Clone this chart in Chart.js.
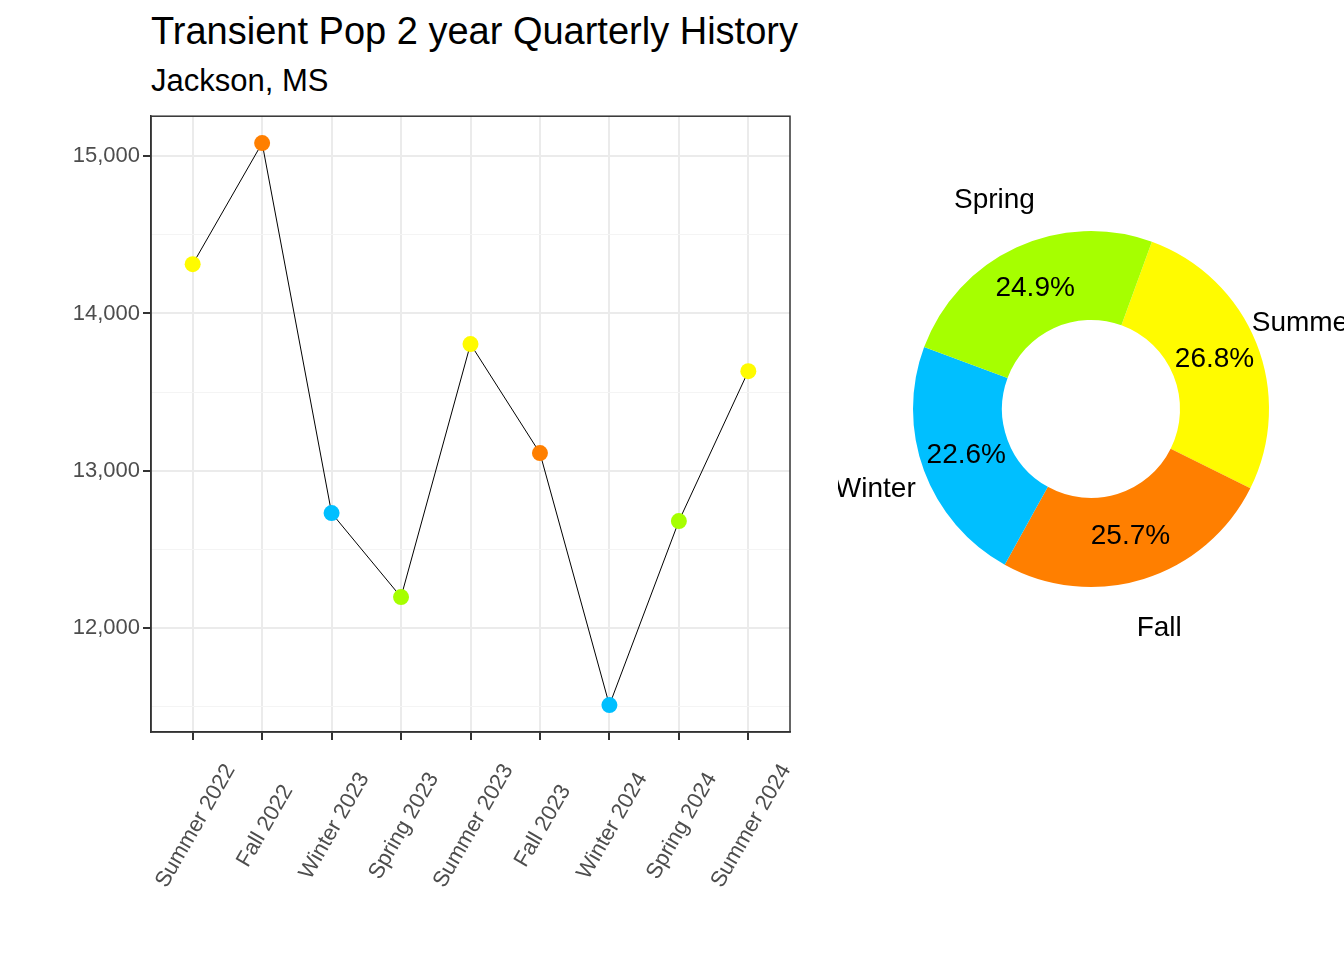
<!DOCTYPE html>
<html><head><meta charset="utf-8">
<script src="https://cdn.jsdelivr.net/npm/chart.js@4"></script>
<style>
body{margin:0;width:1344px;height:960px;background:#fff;overflow:hidden;position:relative;font-family:"Liberation Sans",Arial,sans-serif}
#t{position:absolute;left:151px;top:10px;font-size:38px;color:#000}
#s{position:absolute;left:151px;top:63px;font-size:31px;color:#000}
#lw{position:absolute;left:0;top:100px;width:820px;height:860px}
#dw{position:absolute;left:838px;top:100px;width:506px;height:618px}
</style></head><body>
<div id="t">Transient Pop 2 year Quarterly History</div>
<div id="s">Jackson, MS</div>
<div id="lw"><canvas id="lc"></canvas></div>
<div id="dw"><canvas id="dc"></canvas></div>
<script>
const quarters=["Summer 2022","Fall 2022","Winter 2023","Spring 2023","Summer 2023","Fall 2023","Winter 2024","Spring 2024","Summer 2024"];
const pop=[14313,15083,12731,12197,13805,13112,11510,12680,13633];
const pointSeason=["Summer","Fall","Winter","Spring","Summer","Fall","Winter","Spring","Summer"];
const shareLabels=["Summer","Fall","Winter","Spring"];
const shares=[26.8,25.7,22.6,24.9];
const colors={Summer:"#FFFB00",Fall:"#FF7F00",Winter:"#00BFFF",Spring:"#A6FF00"};
const FONT='"Liberation Sans",Arial,sans-serif';
Chart.defaults.font.family=FONT;
new Chart(document.getElementById('lc'),{type:'line',
data:{datasets:[{data:pop.map((v,i)=>({x:i,y:v})),borderColor:'#000',borderWidth:1,
pointRadius:8,pointHoverRadius:8,pointBorderWidth:0,
pointBackgroundColor:pointSeason.map(s=>colors[s])}]},
options:{animation:false,responsive:true,maintainAspectRatio:false,
layout:{padding:{top:16,right:30,left:0,bottom:0}},
plugins:{legend:{display:false},tooltip:{enabled:false}},
scales:{
x:{type:'linear',min:-0.6,max:8.6,
afterBuildTicks:s=>{s.ticks=quarters.map((q,i)=>({value:i}));},
afterFit:s=>{s.height=860-632;},
ticks:{display:false},
grid:{color:'#ebebeb',lineWidth:2,tickColor:'#333',tickLength:8},border:{color:'#333',width:1.5}},
y:{min:11339,max:15254,
afterBuildTicks:s=>{const t=[];for(let v=11500;v<=15000;v+=500)t.push({value:v});s.ticks=t;},
afterFit:s=>{s.width=151;},
ticks:{color:'#4d4d4d',font:{size:22},callback:v=>v%1000===0?v.toLocaleString('en-US'):''},
grid:{color:c=>c.tick&&c.tick.value%1000===0?'#ebebeb':'#f4f4f4',lineWidth:c=>c.tick&&c.tick.value%1000===0?2:1,
tickColor:c=>c.tick&&c.tick.value%1000===0?'#333':'rgba(0,0,0,0)',tickLength:8},border:{color:'#333',width:1.5}}}},
plugins:[{id:'box',afterDraw(ch){const a=ch.chartArea,c=ch.ctx;c.save();c.strokeStyle='#333';c.lineWidth=1.5;c.strokeRect(a.left,a.top,a.right-a.left,a.bottom-a.top);
c.fillStyle='#4d4d4d';c.font='22px '+FONT;c.textAlign='center';c.textBaseline='middle';
const xs=ch.scales.x;quarters.forEach((q,i)=>{const x=xs.getPixelForValue(i);c.save();c.translate(x+3,a.bottom+94);c.rotate(-Math.PI/3);c.fillText(q,0,0);c.restore();});
c.restore();}}]
});
new Chart(document.getElementById('dc'),{type:'doughnut',
data:{labels:shareLabels,datasets:[{data:shares,backgroundColor:shareLabels.map(s=>colors[s]),borderWidth:0}]},
options:{animation:false,responsive:true,maintainAspectRatio:false,rotation:20,radius:178,cutout:'50%',
layout:{padding:0},plugins:{legend:{display:false},tooltip:{enabled:false}}},
plugins:[{id:'lbl',afterDraw(ch){const c=ch.ctx,m=ch.getDatasetMeta(0);c.save();c.fillStyle='#000';c.textAlign='center';c.textBaseline='middle';
m.data.forEach((arc,i)=>{const ang=(arc.startAngle+arc.endAngle)/2;
c.font='28px '+FONT;
c.fillText(shares[i].toFixed(1)+'%',arc.x+Math.cos(ang)*133,arc.y+Math.sin(ang)*133);
c.fillText(shareLabels[i],arc.x+Math.cos(ang)*230,arc.y+Math.sin(ang)*230);});c.restore();}}]
});
</script></body></html>
